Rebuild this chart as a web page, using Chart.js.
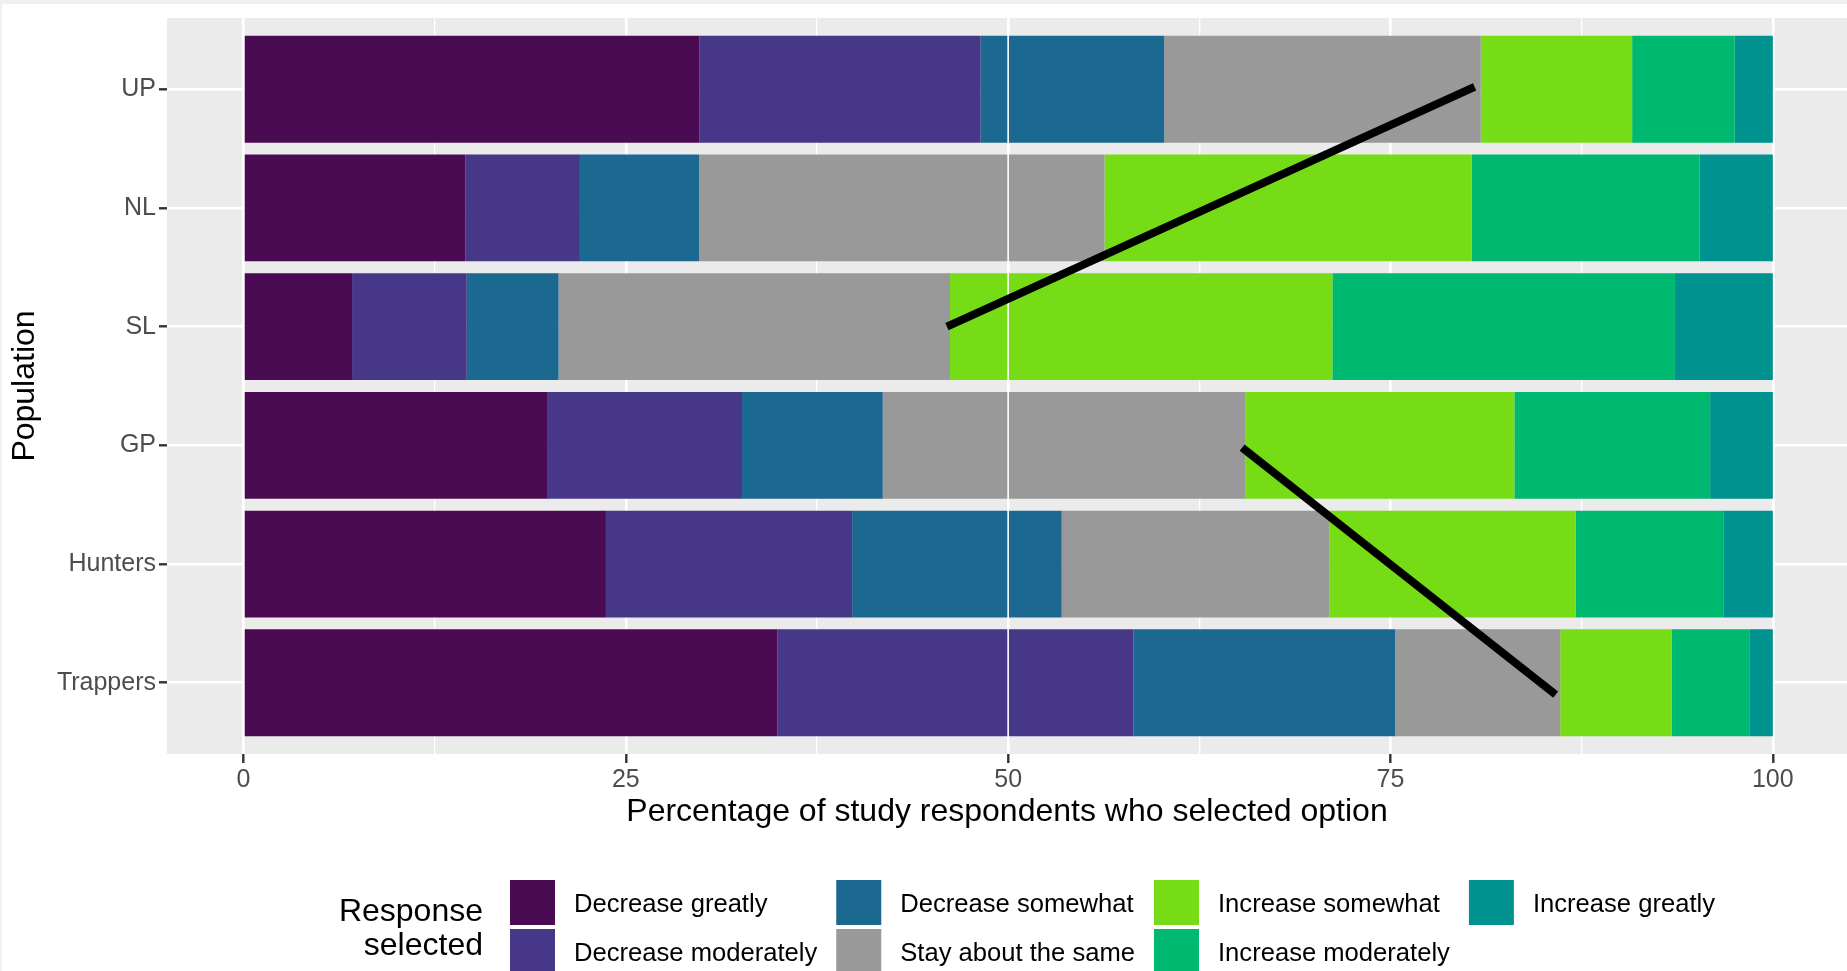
<!DOCTYPE html>
<html>
<head>
<meta charset="utf-8">
<title>Response selected by population</title>
<script src="https://cdn.jsdelivr.net/npm/chart.js@4.4.1/dist/chart.umd.min.js"></script>
<style>
  html, body { margin: 0; padding: 0; background: #fff; }
  canvas { display: block; }
</style>
</head>
<body>
<canvas id="barChart" width="1847" height="971"></canvas>
<script>
/* ------------------ DATA ------------------ */
const populations = ['UP', 'NL', 'SL', 'GP', 'Hunters', 'Trappers'];

const decreaseGreatly    = [29.8, 14.5,  7.1, 19.9, 23.7, 34.9];
const decreaseModerately = [18.4,  7.5,  7.5, 12.7, 16.1, 23.3];
const decreaseSomewhat   = [12.0,  7.8,  6.0,  9.2, 13.7, 17.1];
const stayTheSame        = [20.7, 26.5, 25.6, 23.7, 17.5, 10.8];
const increaseSomewhat   = [ 9.9, 24.0, 25.0, 17.6, 16.1,  7.3];
const increaseModerately = [ 6.7, 14.9, 22.4, 12.8,  9.7,  5.1];
const increaseGreatly    = [ 2.5,  4.8,  6.4,  4.1,  3.2,  1.5];

const xTicks = [0, 25, 50, 75, 100];
const xMinorTicks = [12.5, 37.5, 62.5, 87.5];

// the two black strokes drawn over the bars (x = percent, y = population row)
const strokeFromX = [80.5, 65.3];
const strokeFromY = [-0.02, 3.02];
const strokeToX   = [46.0, 85.8];
const strokeToY   = [2.0, 5.1];

// white reference line at 50%
const midLineX = 50;

/* ------------------ STYLE ------------------ */
const FONT = '"Liberation Sans", Arial, Helvetica, sans-serif';
Chart.defaults.font.family = FONT;

const series = [
    { label: 'Decrease greatly',    values: decreaseGreatly,    color: '#4B0B53' },
    { label: 'Decrease moderately', values: decreaseModerately, color: '#473788' },
    { label: 'Decrease somewhat',   values: decreaseSomewhat,   color: '#1B6891' },
    { label: 'Stay about the same', values: stayTheSame,        color: '#999999' },
    { label: 'Increase somewhat',   values: increaseSomewhat,   color: '#75DC16' },
    { label: 'Increase moderately', values: increaseModerately, color: '#00B970' },
    { label: 'Increase greatly',    values: increaseGreatly,    color: '#00928F' }
];

const yMin = -0.6, yMax = populations.length - 0.4;

/* ---- page + grey panel behind everything ---- */
const panelPlugin = {
    id: 'panel',
    beforeDraw(chart) {
        const { ctx, chartArea: a, width, height } = chart;
        ctx.save();
        ctx.fillStyle = '#ffffff';
        ctx.fillRect(0, 0, width, height);
        ctx.fillStyle = '#F0F0F0';
        ctx.fillRect(0, 0, width, 4);
        ctx.fillRect(0, 0, 2, height);
        ctx.fillStyle = '#EBEBEB';
        ctx.fillRect(a.left, a.top, a.right - a.left, a.bottom - a.top);
        ctx.restore();
    }
};

/* ---- legend at the bottom, filled column by column ---- */
const legendPlugin = {
    id: 'bottomLegend',
    afterDraw(chart) {
        const ctx = chart.ctx;
        const sets = chart.data.datasets.filter(d => d.type !== 'line');
        ctx.save();
        ctx.fillStyle = '#000';
        ctx.textBaseline = 'middle';
        ctx.textAlign = 'right';
        ctx.font = `32px ${FONT}`;
        ctx.fillText('Response', 483, 912);
        ctx.fillText('selected', 483, 946);

        ctx.textAlign = 'left';
        ctx.font = `25.6px ${FONT}`;
        let x = 510;
        for (let c = 0; c < sets.length; c += 2) {
            let maxW = 0;
            sets.slice(c, c + 2).forEach((d, r) => {
                const y = 880 + r * 49;
                ctx.fillStyle = d.backgroundColor;
                ctx.fillRect(x, y, 45, 45);
                ctx.fillStyle = '#000';
                ctx.fillText(d.label, x + 64, y + 25);
                maxW = Math.max(maxW, ctx.measureText(d.label).width);
            });
            x += 64 + maxW + 19;
        }
        ctx.restore();
    }
};

/* ------------------ DATASETS ------------------ */
const barSets = series.map(s => ({
    label: s.label,
    data: s.values.map((v, i) => ({ x: v, y: i })),
    backgroundColor: s.color,
    borderWidth: 0,
    categoryPercentage: 1,
    barPercentage: 0.9,
    order: 0
}));

const strokeSets = strokeFromX.map((fx, i) => ({
    type: 'line',
    indexAxis: 'y',
    stack: 'stroke' + i,
    data: [{ x: fx, y: strokeFromY[i] }, { x: strokeToX[i], y: strokeToY[i] }],
    borderColor: '#000',
    borderWidth: 8,
    borderCapStyle: 'butt',
    pointRadius: 0,
    fill: false,
    order: -2
}));

const midLine = {
    type: 'line',
    indexAxis: 'y',
    stack: 'mid',
    data: [{ x: midLineX, y: yMin }, { x: midLineX, y: yMax }],
    borderColor: '#ffffff',
    borderWidth: 1.6,
    pointRadius: 0,
    fill: false,
    order: -1
};

/* ------------------ CHART ------------------ */
new Chart(document.getElementById('barChart').getContext('2d'), {
    type: 'bar',
    data: { datasets: [...barSets, midLine, ...strokeSets] },
    options: {
        indexAxis: 'y',
        responsive: false,
        animation: false,
        events: [],
        devicePixelRatio: 1,
        layout: { padding: { top: 17, left: 0, right: 0, bottom: 0 } },
        plugins: {
            legend: { display: false },
            tooltip: { enabled: false }
        },
        scales: {
            x: {
                type: 'linear',
                stacked: true,
                min: -5,
                max: 104.85,   // panel runs a little past the right edge of the picture
                afterBuildTicks: a => {
                    a.ticks = [...xTicks, ...xMinorTicks].sort((p, q) => p - q).map(v => ({ value: v }));
                },
                afterFit: s => { s.height = 217; },
                border: { display: false },
                grid: {
                    color: '#ffffff',
                    lineWidth: c => xTicks.includes(c.tick.value) ? 2.6 : 1.3,
                    tickColor: c => xTicks.includes(c.tick.value) ? '#333333' : 'rgba(0,0,0,0)',
                    tickWidth: 2.4,
                    tickLength: 9
                },
                ticks: {
                    autoSkip: false,
                    maxRotation: 0,
                    padding: 2,
                    color: '#4D4D4D',
                    font: { size: 25 },
                    callback: v => xTicks.includes(v) ? String(v) : ''
                },
                title: {
                    display: true,
                    text: 'Percentage of study respondents who selected option',
                    color: '#000',
                    font: { size: 32 },
                    padding: { top: 0, bottom: 140 }
                }
            },
            y: {
                type: 'linear',
                stacked: true,
                reverse: true,
                offset: false,
                min: yMin,
                max: yMax,
                afterBuildTicks: a => {
                    a.ticks = populations.map((p, i) => ({ value: i }));
                },
                afterFit: s => { s.width = 167; },
                border: { display: false },
                grid: {
                    offset: false,
                    color: '#ffffff',
                    lineWidth: 2.6,
                    tickColor: '#333333',
                    tickWidth: 2.4,
                    tickLength: 8
                },
                ticks: {
                    autoSkip: false,
                    padding: 3,
                    color: '#4D4D4D',
                    font: { size: 25 },
                    callback: v => populations[v]
                },
                title: {
                    display: true,
                    text: 'Population',
                    color: '#000',
                    font: { size: 32 },
                    padding: { top: 6, bottom: 0 }
                }
            }
        }
    },
    plugins: [panelPlugin, legendPlugin]
});
</script>
</body>
</html>
